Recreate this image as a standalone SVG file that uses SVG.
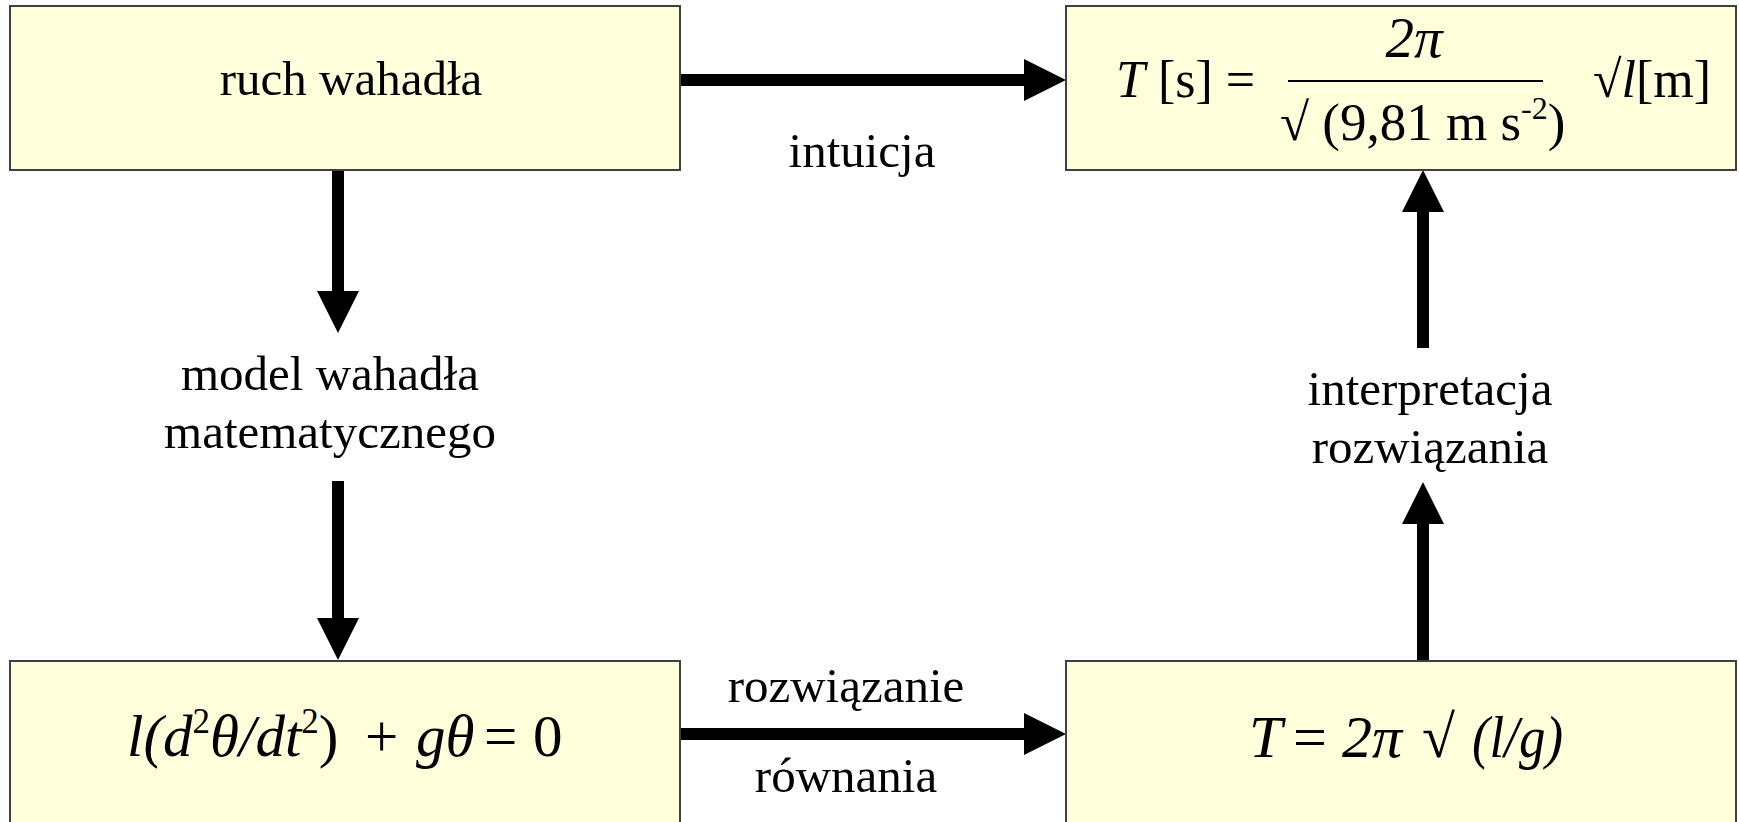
<svg xmlns="http://www.w3.org/2000/svg" width="1739" height="822" viewBox="0 0 1739 822">
<style>
.box{fill:#FFFFDC;stroke:#404040;stroke-width:2}
.t{font-family:"Liberation Serif","Times New Roman",serif;fill:#000}
.lbl{font-size:49px;text-anchor:middle}
.i{font-style:italic}
.conn{stroke:#000;stroke-width:12;fill:none}
.frac{stroke:#000;stroke-width:2}
</style>
<defs>
<marker id="ah" markerUnits="userSpaceOnUse" markerWidth="42" markerHeight="42" refX="0" refY="21" orient="auto">
<path d="M0,0 L42,21 L0,42 z" fill="#000"/>
</marker>
</defs>
<rect width="1739" height="822" fill="#fff"/>
<g id="connectors">
<line class="conn" x1="680" y1="80" x2="1024" y2="80" marker-end="url(#ah)"/>
<line class="conn" x1="680" y1="734" x2="1024" y2="734" marker-end="url(#ah)"/>
<line class="conn" x1="338" y1="171" x2="338" y2="291" marker-end="url(#ah)"/>
<line class="conn" x1="338" y1="481" x2="338" y2="618" marker-end="url(#ah)"/>
<line class="conn" x1="1423" y1="348" x2="1423" y2="212" marker-end="url(#ah)"/>
<line class="conn" x1="1423" y1="660" x2="1423" y2="524" marker-end="url(#ah)"/>
<text class="t lbl" x="862" y="167">intuicja</text>
<text class="t lbl" x="330" y="390">model wahadła</text>
<text class="t lbl" x="330" y="448">matematycznego</text>
<text class="t lbl" x="1430" y="405">interpretacja</text>
<text class="t lbl" x="1430" y="463">rozwiązania</text>
<text class="t lbl" x="846" y="702">rozwiązanie</text>
<text class="t lbl" x="846" y="792">równania</text>
</g>
<g id="node-ruch">
<rect class="box" x="10" y="6" width="670" height="164"/>
<text class="t lbl" x="351" y="95">ruch wahadła</text>
</g>
<g id="node-formula-numeric">
<rect class="box" x="1066" y="6" width="670" height="164"/>
<text class="t" x="1116" y="97" font-size="52"><tspan class="i">T</tspan> [s] =</text>
<text class="t i" x="1414" y="57" font-size="57" text-anchor="middle">2π</text>
<line class="frac" x1="1288" y1="81" x2="1543" y2="81"/>
<text class="t" x="1280" y="140" font-size="53">√ (9,81 m s<tspan font-size="32" dy="-21">-2</tspan><tspan dy="21">)</tspan></text>
<text class="t" x="1593" y="97" font-size="52">√<tspan class="i">l</tspan>[m]</text>
</g>
<g id="node-equation">
<rect class="box" x="10" y="661" width="670" height="170"/>
<text class="t" x="127" y="756" font-size="59"><tspan class="i">l(d</tspan><tspan font-size="35" dy="-23">2</tspan><tspan class="i" dy="23">θ/dt</tspan><tspan font-size="35" dy="-23">2</tspan><tspan dy="23">)</tspan></text>
<text class="t" x="365" y="756" font-size="59">+</text>
<text class="t i" x="416" y="756" font-size="59">gθ</text>
<text class="t" x="484" y="756" font-size="59">=</text>
<text class="t" x="533" y="756" font-size="59">0</text>
</g>
<g id="node-solution">
<rect class="box" x="1066" y="661" width="670" height="170"/>
<text class="t i" x="1249" y="757" font-size="60">T</text>
<text class="t" x="1293" y="757" font-size="60">=</text>
<text class="t i" x="1342" y="757" font-size="60">2π</text>
<text class="t" x="1422" y="757" font-size="60">√</text>
<text class="t i" x="1472" y="757" font-size="60" textLength="91" lengthAdjust="spacingAndGlyphs">(l/g)</text>
</g>
</svg>
